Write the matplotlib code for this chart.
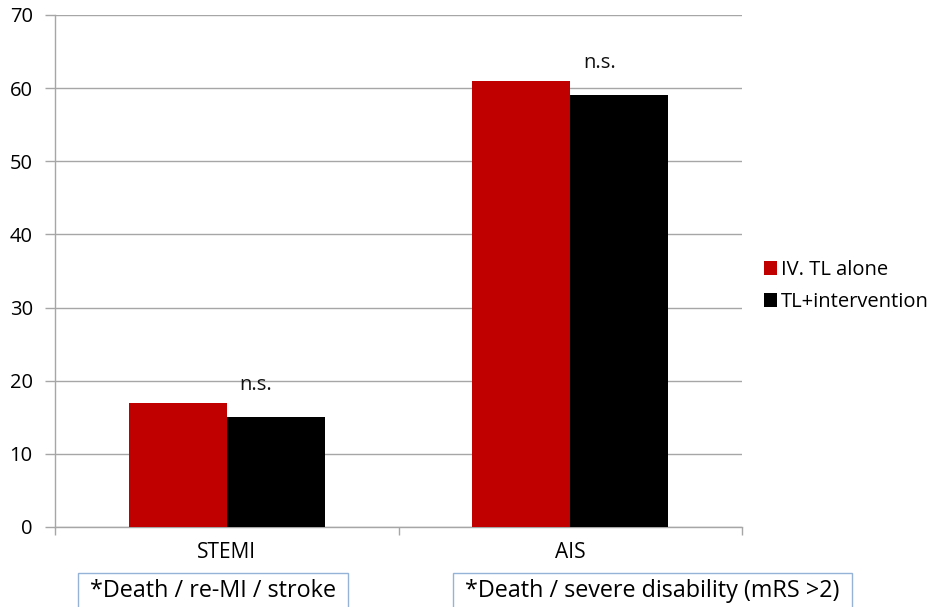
import matplotlib
matplotlib.use("Agg")
import matplotlib.pyplot as plt
from matplotlib.patches import Rectangle, Patch
import numpy as np

categories = ["STEMI", "AIS"]
series_names = ["IV. TL alone", "TL+intervention"]
tl_alone = [17, 61]
tl_intervention = [15, 59]
sig_labels = ["n.s.", "n.s."]
endpoints = ["*Death / re-MI / stroke", "*Death / severe disability (mRS >2)"]
y_ticks = [0, 10, 20, 30, 40, 50, 60, 70]

plt.rcParams["font.family"] = ["Open Sans", "DejaVu Sans"]

W, H = 941, 607
fig = plt.figure(figsize=(W / 100, H / 100), dpi=100)
ax = fig.add_axes([55 / W, 1 - 527 / H, (742 - 55) / W, (527 - 15) / H])

grid_c = "#A6A6A6"
red = "#C00000"
x = np.arange(len(categories))
bw = 0.285
ax.bar(x - bw / 2, tl_alone, width=bw, color=red, label=series_names[0], zorder=3)
ax.bar(x + bw / 2, tl_intervention, width=bw, color="black", label=series_names[1], zorder=3)

for xi, a, lab in zip(x, tl_alone, sig_labels):
    ax.text(xi + 0.085, a + 2.4, lab, ha="center", va="center", fontsize=14.5, color="#111111")

ax.set_xlim(-0.5, 1.5)
ax.set_ylim(0, 70)
ax.set_yticks(y_ticks)
ax.set_yticklabels([str(v) for v in y_ticks], fontsize=14.5)
ax.yaxis.grid(True, color=grid_c, linewidth=1, zorder=0)
ax.tick_params(axis="y", length=7, color=grid_c, width=1, pad=9)

ax.set_xticks(x)
ax.set_xticklabels(categories, fontsize=15)
ax.tick_params(axis="x", which="major", length=0, pad=11)
ax.set_xticks([-0.5, 0.5, 1.5], minor=True)
ax.tick_params(axis="x", which="minor", length=6, color=grid_c, width=1)

for s in ["top", "right"]:
    ax.spines[s].set_visible(False)
for s in ["left", "bottom"]:
    ax.spines[s].set_color(grid_c)
    ax.spines[s].set_linewidth(1)

handles = [Patch(facecolor=red), Patch(facecolor="black")]
fig.legend(handles, series_names, loc="center left",
           bbox_to_anchor=(746 / W, 1 - 286 / H), frameon=False,
           fontsize=14.5, handlelength=0.65, handleheight=0.65,
           handletextpad=0.2, labelspacing=0.6)

# endpoint definition boxes beneath each category
boxes = [(78, 348), (453, 852)]
for (x0, x1), txt in zip(boxes, endpoints):
    fig.patches.append(Rectangle((x0 / W, -0.02), (x1 - x0) / W, (0.02 + 1 - 573 / H),
                                 transform=fig.transFigure, fill=False,
                                 edgecolor="#95B3D7", linewidth=1))
    fig.text((x0 + 12) / W, 1 - 591 / H, txt, ha="left", va="center", fontsize=16.8,
             color="black")

fig.savefig("out.png", dpi=100)
